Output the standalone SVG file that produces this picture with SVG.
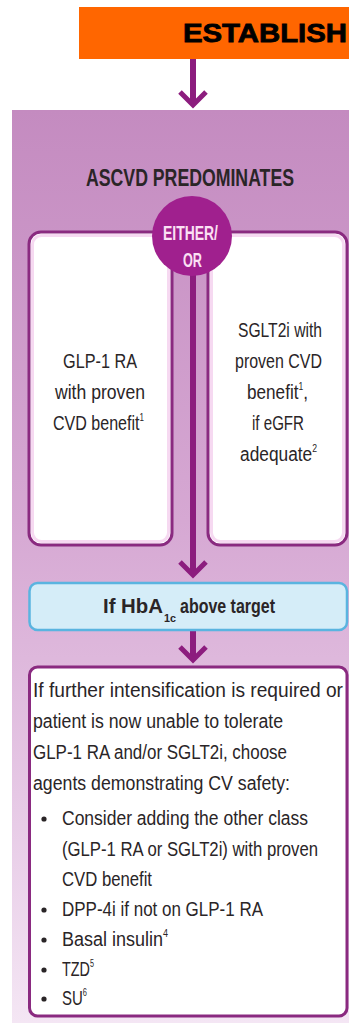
<svg xmlns="http://www.w3.org/2000/svg" width="349" height="1023" viewBox="0 0 349 1023">
<defs>
<linearGradient id="panelGrad" x1="0" y1="0" x2="0" y2="1">
<stop offset="0" stop-color="#c48bc0"/>
<stop offset="0.45" stop-color="#d6a8d3"/>
<stop offset="0.75" stop-color="#e6c8e5"/>
<stop offset="1" stop-color="#f4e6f4"/>
</linearGradient>
<marker id="chev" viewBox="-16 -16 32 32" markerUnits="userSpaceOnUse" markerWidth="32" markerHeight="32" refX="0" refY="0" orient="auto">
<path d="M-13,-13 L0,0 L-13,13" fill="none" stroke="#8c1d7e" stroke-width="5"/>
</marker>
<style>
.t{font-family:"Liberation Sans",Arial,sans-serif;font-size:20px;fill:#2a2527;}
.b{font-weight:bold;}
.s{font-size:10px;}
.box{fill:#ffffff;stroke:#8a2a80;stroke-width:3;}
.glow{fill:none;stroke:#f6d9f1;stroke-width:3;}
.conn{fill:none;stroke:#8c1d7e;stroke-width:6;marker-end:url(#chev);}
</style>
</defs>

<g id="header">
<rect x="79" y="7" width="270" height="52" fill="#ff6600"/>
<text x="183" y="42" font-family="'Liberation Sans',Arial,sans-serif" font-size="26" font-weight="bold" fill="#000" stroke="#000" stroke-width="0.8" textLength="164" lengthAdjust="spacingAndGlyphs">ESTABLISH</text>
</g>

<g id="panel">
<rect x="12" y="110" width="337" height="913" fill="url(#panelGrad)"/>
<text class="t b" x="86" y="186" textLength="208" lengthAdjust="spacingAndGlyphs" style="font-size:24px">ASCVD PREDOMINATES</text>
</g>

<g id="glp1">
<rect class="box" x="29" y="232" width="143" height="313" rx="12"/>
<rect class="glow" x="32.5" y="235.5" width="136" height="306" rx="9"/>
<text class="t" x="63" y="368" textLength="74" lengthAdjust="spacingAndGlyphs">GLP-1 RA</text>
<text class="t" x="55" y="399" textLength="90" lengthAdjust="spacingAndGlyphs">with proven</text>
<text class="t" x="53" y="430" textLength="91" lengthAdjust="spacingAndGlyphs">CVD benefit<tspan class="s" dy="-9">1</tspan></text>
</g>

<g id="sglt2i">
<rect class="box" x="208" y="232" width="139" height="313" rx="12"/>
<rect class="glow" x="211.5" y="235.5" width="132" height="306" rx="9"/>
<text class="t" x="238" y="337" textLength="84" lengthAdjust="spacingAndGlyphs">SGLT2i with</text>
<text class="t" x="235" y="368" textLength="87" lengthAdjust="spacingAndGlyphs">proven CVD</text>
<text class="t" x="247" y="399" textLength="61" lengthAdjust="spacingAndGlyphs">benefit<tspan class="s" dy="-9">1</tspan><tspan dy="9">,</tspan></text>
<text class="t" x="252" y="430" textLength="52" lengthAdjust="spacingAndGlyphs">if eGFR</text>
<text class="t" x="240" y="461" textLength="77" lengthAdjust="spacingAndGlyphs">adequate<tspan class="s" dy="-9">2</tspan></text>
</g>

<g id="connectors">
<path class="conn" d="M193,59 L193,105"/>
<path class="conn" d="M193,270 L193,575"/>
<path class="conn" d="M193,631 L193,660"/>
</g>

<g id="either-or">
<circle cx="192" cy="236" r="40" fill="#a0208e"/>
<text class="b" x="163" y="240" font-family="'Liberation Sans',Arial,sans-serif" font-size="20" fill="#fbe0f4" textLength="55" lengthAdjust="spacingAndGlyphs">EITHER/</text>
<text class="b" x="183" y="267" font-family="'Liberation Sans',Arial,sans-serif" font-size="20" fill="#fbe0f4" textLength="19" lengthAdjust="spacingAndGlyphs">OR</text>
</g>

<g id="hba1c">
<rect x="29.5" y="583" width="317.5" height="47" rx="8" fill="#d5edf8" stroke="#5ab4e0" stroke-width="2.5"/>
<text class="t b" x="103" y="613" textLength="60" lengthAdjust="spacingAndGlyphs">If HbA</text>
<text class="b" x="164" y="622" font-family="'Liberation Sans',Arial,sans-serif" font-size="11" fill="#2a2527" textLength="12" lengthAdjust="spacingAndGlyphs">1c</text>
<text class="t b" x="180" y="613" textLength="95" lengthAdjust="spacingAndGlyphs">above target</text>
</g>

<g id="intensify">
<rect class="box" x="29.5" y="667" width="317.5" height="349" rx="8" stroke="#7d3a78"/>
<text class="t" x="33" y="697" textLength="310" lengthAdjust="spacingAndGlyphs">If further intensification is required or</text>
<text class="t" x="33" y="728" textLength="250" lengthAdjust="spacingAndGlyphs">patient is now unable to tolerate</text>
<text class="t" x="33" y="759" textLength="254" lengthAdjust="spacingAndGlyphs">GLP-1 RA and/or SGLT2i, choose</text>
<text class="t" x="33" y="790" textLength="257" lengthAdjust="spacingAndGlyphs">agents demonstrating CV safety:</text>
<g fill="#2a2527">
<circle cx="44" cy="819" r="2.6"/>
<circle cx="44" cy="910" r="2.6"/>
<circle cx="44" cy="940" r="2.6"/>
<circle cx="44" cy="970" r="2.6"/>
<circle cx="44" cy="999" r="2.6"/>
</g>
<text class="t" x="62" y="825" textLength="246" lengthAdjust="spacingAndGlyphs">Consider adding the other class</text>
<text class="t" x="62" y="856" textLength="256" lengthAdjust="spacingAndGlyphs">(GLP-1 RA or SGLT2i) with proven</text>
<text class="t" x="62" y="886" textLength="90" lengthAdjust="spacingAndGlyphs">CVD benefit</text>
<text class="t" x="62" y="916" textLength="201" lengthAdjust="spacingAndGlyphs">DPP-4i if not on GLP-1 RA</text>
<text class="t" x="62" y="946" textLength="106" lengthAdjust="spacingAndGlyphs">Basal insulin<tspan class="s" dy="-9">4</tspan></text>
<text class="t" x="62" y="976" textLength="32" lengthAdjust="spacingAndGlyphs">TZD<tspan class="s" dy="-9">5</tspan></text>
<text class="t" x="62" y="1005" textLength="25" lengthAdjust="spacingAndGlyphs">SU<tspan class="s" dy="-9">6</tspan></text>
</g>
</svg>
